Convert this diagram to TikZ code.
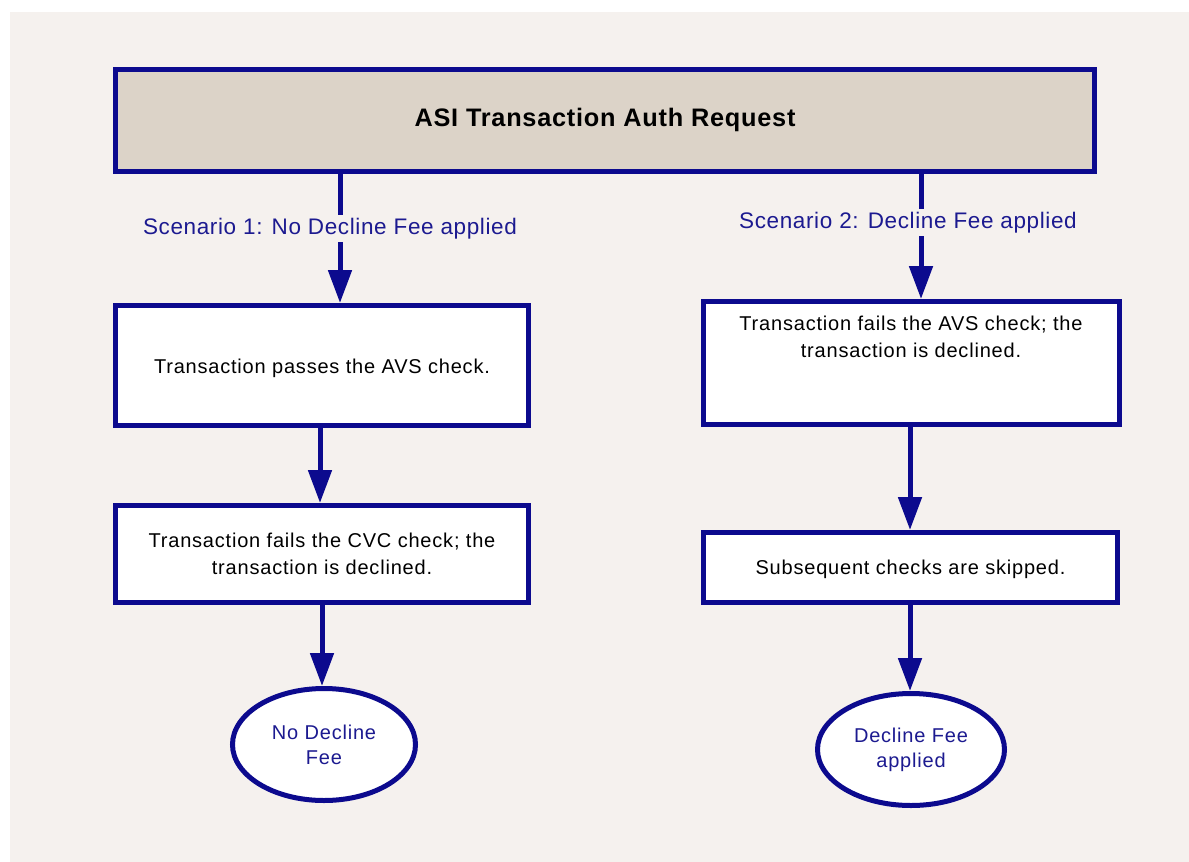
\documentclass[tikz,border=0pt]{standalone}
\usepackage{fontspec}
\setmainfont{Liberation Sans}
\usetikzlibrary{arrows.meta,shapes.geometric}
\definecolor{navy}{HTML}{0C0A8E}
\definecolor{labelblue}{HTML}{1C1A90}
\definecolor{bgbeige}{HTML}{F5F1EE}
\definecolor{titlefill}{HTML}{DCD3C8}
\newfontfamily\bodyfont[LetterSpace=4]{Liberation Sans}
\newfontfamily\labfont[LetterSpace=2.8]{Liberation Sans}
\newfontfamily\titlefont[LetterSpace=3]{Liberation Sans}
\begin{document}
\begin{tikzpicture}[x=1pt,y=-1pt,
  box/.style={draw=navy,line width=5pt,fill=white,inner sep=0pt,align=center,font=\bodyfont\fontsize{20}{27}\selectfont},
  oval/.style={ellipse,draw=navy,line width=5pt,fill=white,inner sep=0pt,align=center,text=labelblue,font=\bodyfont\fontsize{20}{25}\selectfont},
  arr/.style={draw=navy,line width=5pt,-{Triangle[width=23pt,length=33pt]}},
  lab/.style={fill=bgbeige,text=labelblue,inner sep=3pt,font=\labfont\fontsize{22.5}{27}\selectfont}]
\useasboundingbox (0,0) rectangle (1189,862);
\fill[white] (0,0) rectangle (1189,862);
\fill[bgbeige] (10,12) rectangle (1189,862);
% nodes
\node[box,fill=titlefill,minimum width=979pt,minimum height=102pt,font=\titlefont\bfseries\fontsize{25.3}{27}\selectfont] (top) at (605,120) {ASI Transaction Auth Request};
\node[box,minimum width=413pt,minimum height=120pt,text height=20pt,text depth=4pt] (l1) at (322,365.5) {Transaction passes the AVS check.};
\node[box,minimum width=413pt,minimum height=97pt] (l2) at (322,554) {Transaction fails the CVC check; the\\transaction is declined.};
\node[oval,minimum width=183pt,minimum height=112pt] (el) at (324,744.5) {No Decline\\Fee};
\node[box,minimum width=416pt,minimum height=123pt] (r1) at (911.5,363) {};
\node[align=center,font=\bodyfont\fontsize{20}{27}\selectfont,inner sep=0pt] (r1t) at (911,337) {Transaction fails the AVS check; the\\transaction is declined.};
\node[box,minimum width=414pt,minimum height=70pt,text height=18.5pt,text depth=4pt] (r2) at (910.5,567.5) {Subsequent checks are skipped.};
\node[oval,minimum width=187pt,minimum height=112pt] (er) at (911,749.5) {Decline Fee\\applied};
% connector x positions
\coordinate (xa) at (340,0);
\coordinate (xb) at (320,0);
\coordinate (xc) at (322,0);
\coordinate (xd) at (921,0);
\coordinate (xe) at (910,0);
% connectors
\draw[arr] (top.south -| xa) -- (l1.north -| xa);
\draw[arr] (l1.south -| xb) -- (l2.north -| xb);
\draw[arr] (l2.south -| xc) -- (el.north -| xc);
\draw[arr] (top.south -| xd) -- (r1.north -| xd);
\draw[arr] (r1.south -| xe) -- (r2.north -| xe);
\draw[arr] (r2.south -| xe) -- (er.north -| xe);
% labels
\node[lab] (s1) at (330,228.5) {Scenario 1: No Decline Fee applied};
\node[lab] (s2) at (908,222.5) {Scenario 2: Decline Fee applied};
\end{tikzpicture}
\end{document}
